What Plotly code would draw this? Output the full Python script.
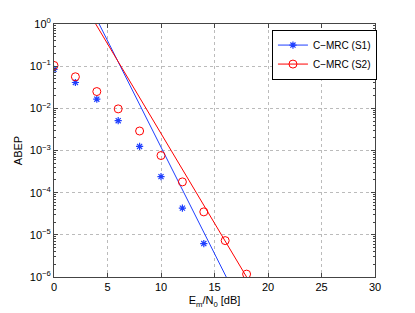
import plotly.graph_objects as go

snr = [0, 2, 4, 6, 8, 10, 12, 14]
s1_abep = [0.084, 0.041, 0.0165, 0.0051, 0.00125, 0.00024, 4.3e-5, 6.2e-6]
snr2 = [0, 2, 4, 6, 8, 10, 12, 14, 16, 18]
s2_abep = [0.104, 0.056, 0.025, 0.0097, 0.0029, 0.00076, 0.00018, 3.5e-5, 7.3e-6, 1.17e-6]

# asymptotic lines (end points)
asy1_x = [4.22, 16.1]
asy1_y = [1.0, 1e-6]
asy2_x = [3.9, 18.0]
asy2_y = [1.0, 1e-6]

xticks = [0, 5, 10, 15, 20, 25, 30]
yticks = [1, 1e-1, 1e-2, 1e-3, 1e-4, 1e-5, 1e-6]
yticklabels = ["10<sup>0</sup>", "10<sup>−1</sup>", "10<sup>−2</sup>", "10<sup>−3</sup>",
               "10<sup>−4</sup>", "10<sup>−5</sup>", "10<sup>−6</sup>"]
yminor = [m * 10.0 ** e for e in range(-6, 0) for m in range(2, 10)]

BLUE = "#1f3fff"
RED = "#ff0000"

fig = go.Figure()
fig.add_trace(go.Scatter(x=asy1_x, y=asy1_y, mode="lines", line=dict(color=BLUE, width=1), showlegend=False))
fig.add_trace(go.Scatter(x=asy2_x, y=asy2_y, mode="lines", line=dict(color=RED, width=1), showlegend=False))
fig.add_trace(go.Scatter(x=snr, y=s1_abep, mode="markers",
                         marker=dict(symbol="asterisk-open", size=6, color=BLUE, line=dict(color=BLUE, width=1.2)),
                         showlegend=False))
fig.add_trace(go.Scatter(x=snr2, y=s2_abep, mode="markers",
                         marker=dict(symbol="circle-open", size=8, color=RED, line=dict(color=RED, width=1)),
                         showlegend=False))
# legend entries
fig.add_trace(go.Scatter(x=[None], y=[None], mode="lines+markers", name="C−MRC (S1)",
                         line=dict(color=BLUE, width=1),
                         marker=dict(symbol="asterisk-open", size=6, color=BLUE, line=dict(color=BLUE, width=1.2))))
fig.add_trace(go.Scatter(x=[None], y=[None], mode="lines+markers", name="C−MRC (S2)",
                         line=dict(color=RED, width=1),
                         marker=dict(symbol="circle-open", size=8, color=RED, line=dict(color=RED, width=1))))

font = dict(family="Liberation Sans, Arial, sans-serif", size=11, color="black")

fig.update_layout(
    width=407, height=305,
    margin=dict(l=46, r=40, t=15.5, b=35.5),
    paper_bgcolor="white", plot_bgcolor="white",
    font=font,
    legend=dict(x=0.679, y=0.978, xanchor="left", yanchor="top",
                bgcolor="white", bordercolor="black", borderwidth=1,
                font=dict(size=10), tracegroupgap=0, itemwidth=30),
    xaxis=dict(range=[0, 30], tickvals=xticks, ticks="inside", ticklen=4,
               showline=True, linecolor="#444", linewidth=1, mirror="ticks",
               showgrid=True, gridcolor="#bbbbbb", griddash="dot", gridwidth=1,
               zeroline=False, automargin=False, tickfont=dict(size=11),
               title=dict(text="E<sub>m</sub>/N<sub>0</sub> [dB]", standoff=4, font=dict(size=11))),
    yaxis=dict(type="log", range=[-6, 0], tickvals=yticks, ticktext=yticklabels,
               ticks="inside", ticklen=4,
               minor=dict(tickmode="array", tickvals=yminor, ticks="inside", ticklen=2,
                          showgrid=False, tickcolor="#444"),
               showline=True, linecolor="#444", linewidth=1, mirror="ticks",
               showgrid=True, gridcolor="#bbbbbb", griddash="dot", gridwidth=1,
               zeroline=False, automargin=False, tickfont=dict(size=11),
               title=dict(text="ABEP", standoff=4, font=dict(size=11))),
)

fig.write_html("out.html")
